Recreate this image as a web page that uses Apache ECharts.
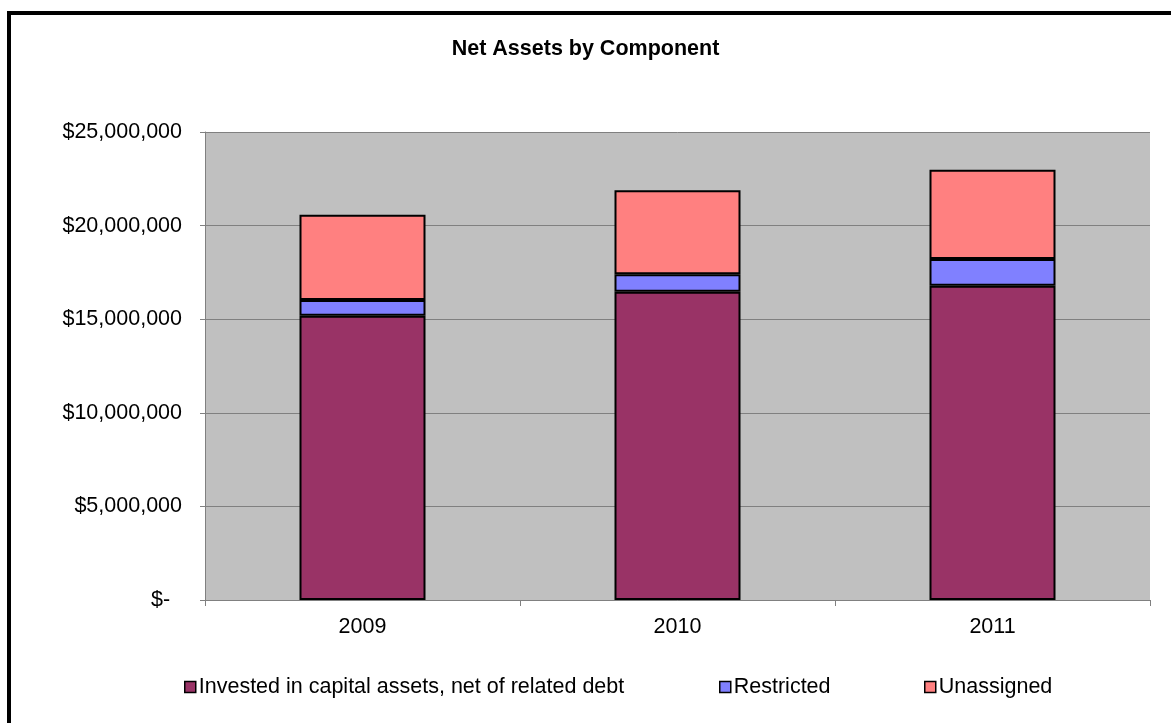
<!DOCTYPE html>
<html>
<head>
<meta charset="utf-8">
<script src="https://cdn.jsdelivr.net/npm/echarts@6/dist/echarts.min.js"></script>
<style>
html,body{margin:0;padding:0;background:#fff;overflow:hidden;}
#frame{position:absolute;left:7px;top:11px;width:1200px;height:760px;border:4px solid #000;}
#chart{position:absolute;left:0;top:0;width:1171px;height:723px;}
</style>
</head>
<body>
<div id="frame"></div>
<div id="chart"></div>
<script>
const categories = ['2009', '2010', '2011'];
const invested = [15190000, 16470000, 16790000];
const restricted = [840000, 930000, 1430000];
const unassigned = [4550000, 4490000, 4770000];
const seriesNames = ['Invested in capital assets, net of related debt', 'Restricted', 'Unassigned'];
const colors = ['#993366', '#8080FF', '#FF8080'];

function fmt(v){
  if (v === 0) return '$-  ';
  return '$' + v.toLocaleString('en-US');
}

const chart = echarts.init(document.getElementById('chart'));
const font = 'Liberation Sans, Arial, sans-serif';
const fs = 21.5;
const data = [invested, restricted, unassigned];
const legendLefts = [179, 714, 919];
chart.setOption({
  animation: false,
  title: {
    text: 'Net Assets by Component',
    left: 'center', top: 33,
    textStyle: {fontFamily: font, fontSize: 21.5, fontWeight: 'bold', color: '#000'}
  },
  legend: seriesNames.map((n, i) => ({
    data: [n], left: legendLefts[i], top: 671,
    itemWidth: 11, itemHeight: 11, itemGap: 0,
    icon: 'rect',
    itemStyle: {borderColor: '#000', borderWidth: 1.5},
    textStyle: {fontFamily: font, fontSize: fs, color: '#000', padding: [0,0,0,-2]}
  })),
  grid: {left: 205, right: 21, top: 132, bottom: 123, show: true, backgroundColor: '#C0C0C0', borderWidth: 0},
  xAxis: {
    type: 'category', data: categories,
    axisLine: {lineStyle: {color: '#808080', width: 1}},
    axisTick: {show: true, length: 6, lineStyle: {color: '#808080'}},
    axisLabel: {fontFamily: font, fontSize: fs, color: '#000', margin: 16}
  },
  yAxis: {
    type: 'value', min: 0, max: 25000000, interval: 5000000,
    axisLine: {show: true, lineStyle: {color: '#808080'}},
    axisTick: {show: true, length: 5, lineStyle: {color: '#808080'}},
    splitLine: {lineStyle: {color: '#808080', width: 1}},
    axisLabel: {fontFamily: font, fontSize: fs, color: '#000', margin: 23, formatter: fmt}
  },
  series: seriesNames.map((n, i) => ({
    name: n, type: 'bar', stack: 'total', data: data[i],
    barWidth: '40%',
    itemStyle: {color: colors[i], borderColor: '#000', borderWidth: 2}
  }))
});
</script>
</body>
</html>
